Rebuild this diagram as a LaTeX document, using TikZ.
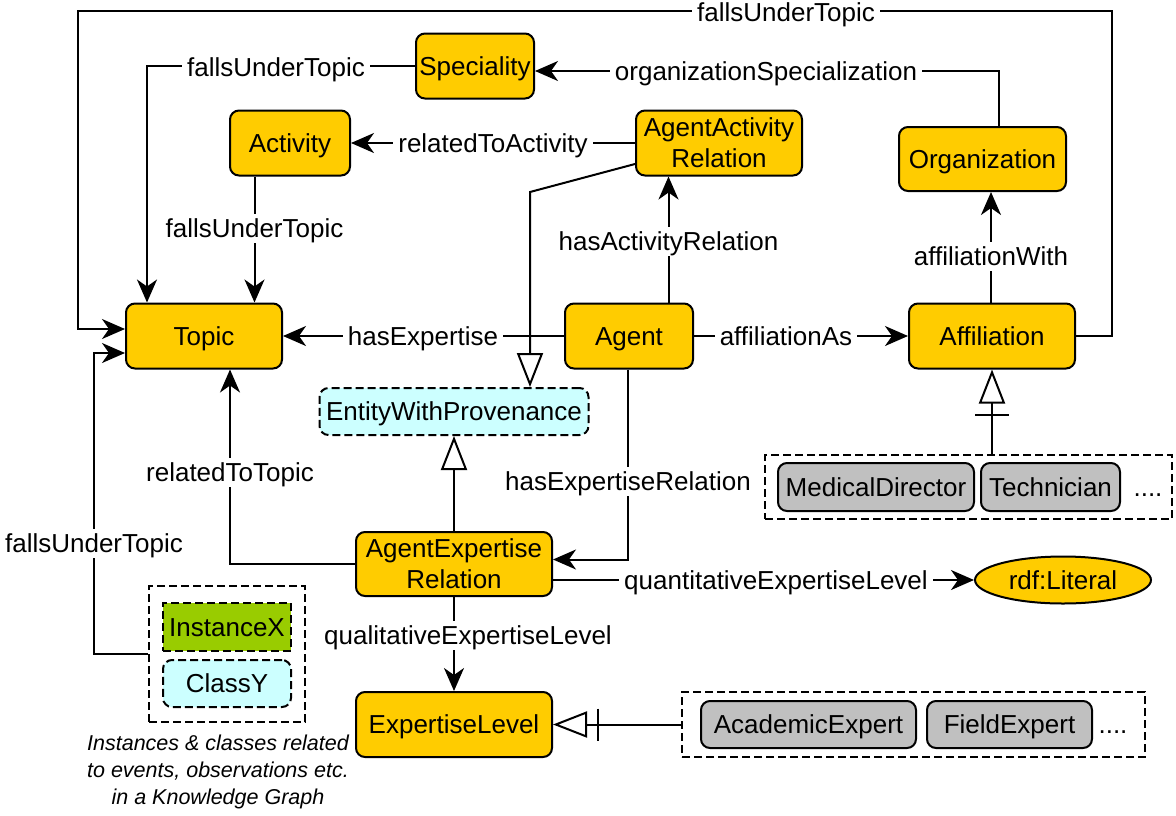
\documentclass[tikz,border=0pt]{standalone}
\usepackage{fontspec}
\setmainfont{Liberation Sans}
\usetikzlibrary{arrows.meta,shapes.geometric,calc}
\definecolor{yel}{HTML}{FFCC00}
\definecolor{cy}{HTML}{CCFFFF}
\definecolor{grn}{HTML}{99CC00}
\definecolor{gry}{HTML}{C0C0C0}
\begin{document}
\begin{tikzpicture}[x=1pt,y=-1pt,
  font=\fontsize{26}{31}\selectfont,
  one/.style={text height=23.5pt, text depth=5.5pt},
  cls/.style={draw, line width=2pt, fill=yel, rounded corners=9pt, inner sep=0pt, align=center},
  sub/.style={draw, line width=2pt, fill=gry, rounded corners=9pt, inner sep=0pt, one},
  dbox/.style={draw, line width=2pt, dash pattern=on 8pt off 4pt, inner sep=0pt},
  lbl/.style={fill=white, inner xsep=5pt, inner ysep=0pt, one},
  ln/.style={line width=2pt},
  arr/.style={line width=2pt, -{Stealth[length=23pt,width=20pt,inset=7pt]}},
  inh/.style={line width=2pt, -{Triangle[length=34pt,width=26pt,fill=white]}}]
\useasboundingbox (0,0) rectangle (1176,815);

% nodes
\node[cls, one, minimum width=118pt, minimum height=65pt] (spec) at (475,66) {Speciality};
\node[cls, one, minimum width=120pt, minimum height=65pt] (act) at (290,143) {Activity};
\node[cls, minimum width=166pt, minimum height=65pt] (aar) at (719,143) {AgentActivity\\Relation};
\node[cls, one, minimum width=167pt, minimum height=64pt] (org) at (982.5,159) {Organization};
\node[cls, one, minimum width=156pt, minimum height=65pt] (topic) at (204,336) {Topic};
\node[cls, one, minimum width=128pt, minimum height=65pt] (agent) at (629,336) {Agent};
\node[cls, one, minimum width=166pt, minimum height=65pt] (aff) at (992,336) {Affiliation};
\node[dbox, one, fill=cy, rounded corners=9pt, minimum width=269pt, minimum height=47pt] (ewp) at (454,411.5) {EntityWithProvenance};
\node[cls, minimum width=196pt, minimum height=64pt] (aer) at (454,564) {AgentExpertise\\Relation};
\node[draw, one, line width=2pt, fill=yel, ellipse, inner sep=0pt, minimum width=176pt, minimum height=47pt] (lit) at (1063,580) {rdf:Literal};
\node[cls, one, minimum width=196pt, minimum height=65pt] (el) at (454,724.5) {ExpertiseLevel};

% right group
\node[dbox, minimum width=407pt, minimum height=64pt] (grpR) at (968.5,487) {};
\node[sub, minimum width=196pt, minimum height=48pt] (md) at (876,487) {MedicalDirector};
\node[sub, minimum width=139pt, minimum height=48pt] (tech) at (1050.5,487) {Technician};
\node[inner sep=0pt, one] (dotsR) at (1148,487) {....};

% bottom group
\node[dbox, minimum width=463pt, minimum height=65pt] (grpB) at (913.5,724.5) {};
\node[sub, minimum width=215pt, minimum height=47pt] (ae) at (808.5,724.5) {AcademicExpert};
\node[sub, minimum width=165pt, minimum height=47pt] (fe) at (1009.5,724.5) {FieldExpert};
\node[inner sep=0pt, one] (dotsB) at (1113,724.5) {....};

% legend
\node[dbox, minimum width=156pt, minimum height=136pt] (legend) at (227,654) {};
\node[dbox, one, fill=grn, minimum width=128pt, minimum height=48pt] (inst) at (227,627) {InstanceX};
\node[dbox, one, fill=cy, rounded corners=9pt, minimum width=128pt, minimum height=47pt] (clsy) at (227,683.5) {ClassY};
\node[align=center, font=\fontsize{21.5}{27}\selectfont\itshape] (note) at (218,772) {Instances \& classes related\\to events, observations etc.\\in a Knowledge Graph};

% connectors
\coordinate (c1) at (1112,11);
\coordinate (c2) at (78,11);
\draw[arr] (aff.east) -| (c1) -- (c2) |- ($(topic.west)+(0,-7)$);
\node[lbl] (l1) at (786,12) {fallsUnderTopic};

\draw[arr] (spec.west) -| ($(topic.north west)+(22,0)$);
\node[lbl] (l2) at (276,67) {fallsUnderTopic};

\draw[arr] ($(org.north)+(16,0)$) |- ($(spec.east)+(0,5)$);
\node[lbl] (l3) at (766,71) {organizationSpecialization};

\draw[arr] (aar.west) -- (act.east);
\node[lbl] (l4) at (493,143) {relatedToActivity};

\coordinate (p5) at ($(act.south)+(-35.5,0)$);
\draw[arr] (p5) -- (p5 |- topic.north);
\node[lbl] (l5) at (254.5,228) {fallsUnderTopic};

\coordinate (p6) at ($(agent.north)+(39.5,0)$);
\draw[arr] (p6) -- (p6 |- aar.south);
\node[lbl] (l6) at (668.5,241) {hasActivityRelation};

\coordinate (k7) at (530,192);
\draw[inh] ($(aar.west)+(0,21)$) -- (k7) -- (k7 |- ewp.north);

\draw[arr] (agent.west) -- (topic.east);
\node[lbl] (l8) at (423,336) {hasExpertise};

\draw[arr] (agent.east) -- (aff.west);
\node[lbl] (l9) at (786,336) {affiliationAs};

\coordinate (p10) at ($(aff.north)+(-1,0)$);
\draw[arr] (p10) -- (p10 |- org.south);
\node[lbl] (l10) at (991,256) {affiliationWith};

\draw[inh] (grpR.north -| aff.south) -- (aff.south);
\draw[ln] ($(aff.south)+(-17,45)$) -- ++(34,0);

\draw[arr] ($(agent.south)+(-1,0)$) |- ($(aer.east)+(0,-4.5)$);
\node[lbl] (l12) at (628,481) {hasExpertiseRelation};

\draw[inh] (aer.north) -- (ewp.south);

\draw[arr] (aer.west) -| ($(topic.south)+(26,0)$);
\node[lbl] (l14) at (230,472) {relatedToTopic};

\coordinate (p15) at ($(aer.east)+(0,16)$);
\draw[arr] (p15) -- (p15 -| lit.west);
\node[lbl] (l15) at (776,580) {quantitativeExpertiseLevel};

\draw[arr] (aer.south) -- (el.north);
\node[lbl] (l16) at (468,635) {qualitativeExpertiseLevel};

\draw[inh] (grpB.west) -- (el.east);
\draw[ln] ($(el.east)+(45,-16)$) -- ++(0,32);

\coordinate (c4) at (94,353);
\draw[arr] (legend.west) -| (c4) -- (c4 -| topic.west);
\node[lbl] (l18) at (94,543) {fallsUnderTopic};
\end{tikzpicture}
\end{document}
